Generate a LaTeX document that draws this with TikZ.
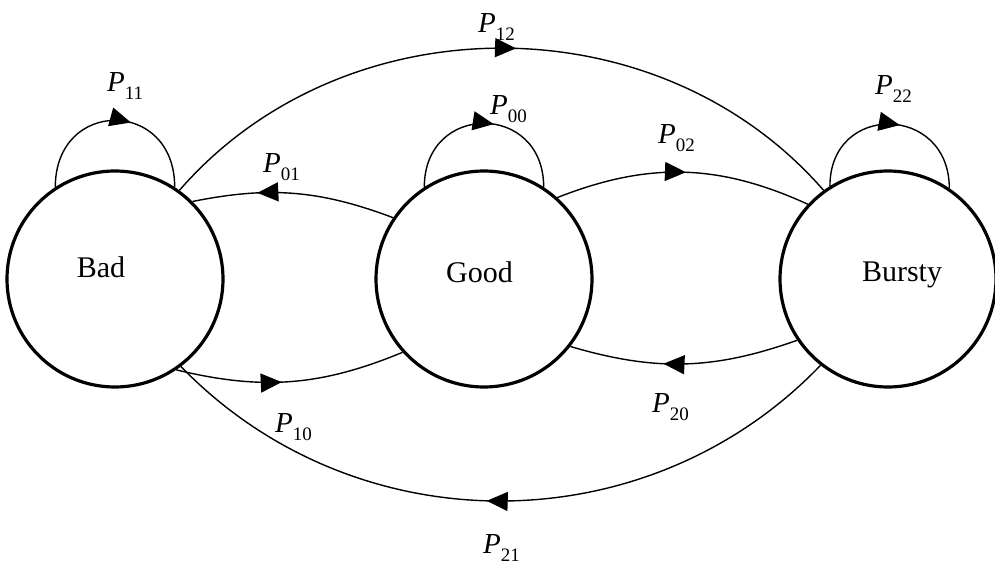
\documentclass[tikz,border=0pt]{standalone}
\usepackage{fontspec}
\setmainfont{Liberation Serif}
\usetikzlibrary{arrows.meta, decorations.markings}

\newcommand{\prob}[1]{\textit{P}\raisebox{-8pt}{\fontsize{19}{19}\selectfont #1}}

\tikzset{
  state/.style={draw, circle, line width=3.2pt, minimum size=216pt, inner sep=0pt},
  statetext/.style={font=\fontsize{30}{30}\selectfont, inner sep=0pt},
  trans/.style={line width=1.4pt, postaction={decorate},
    decoration={markings, mark=at position #1 with {\arrow{Triangle[length=21pt,width=19pt]}}}},
  plabel/.style={anchor=base west, inner sep=0pt, font=\fontsize{29}{29}\selectfont}
}

\begin{document}
\begin{tikzpicture}[x=1pt, y=1pt]
    \useasboundingbox (0,0) rectangle (995,565);
    % states
    \node (bad) [state, label={[statetext, xshift=-14pt, yshift=12pt]center:Bad}] at (115,286) {};
    \node (good) [state, label={[statetext, xshift=-4.5pt, yshift=6.5pt]center:Good}] at (484,286) {};
    \node (bursty) [state, label={[statetext, xshift=14pt, yshift=4pt]center:Bursty}] at (888,286) {};

    % self loops
    \draw[trans=0.58] (bad.123) .. controls +(90:89) and +(90:89) .. (bad.57);
    \draw[trans=0.55] (good.123) .. controls +(90:85) and +(90:85) .. (good.57);
    \draw[trans=0.55] (bursty.122) .. controls +(90:84) and +(90:84) .. (bursty.56);

    % transitions
    \draw[trans=0.52] (bad.54) to[bend left=49] (bursty.126);
    \draw[trans=0.68] (good.146) to[bend right=16] (bad.45);
    \draw[trans=0.51] (good.48) to[bend left=23] (bursty.137);
    \draw[trans=0.46] (bad.304) to[bend right=18] (good.222);
    \draw[trans=0.59] (bursty.214) to[bend left=18] (good.322);
    \draw[trans=0.52] (bursty.232) to[bend left=46] (bad.307);

    % labels
    \node (p11) [plabel] at (107,473) {\prob{11}};
    \node (p00) [plabel] at (490,450) {\prob{00}};
    \node (p22) [plabel] at (875,470) {\prob{22}};
    \node (p12) [plabel] at (478,532) {\prob{12}};
    \node (p01) [plabel] at (263,392) {\prob{01}};
    \node (p02) [plabel] at (658,421) {\prob{02}};
    \node (p10) [plabel] at (275,133) {\prob{10}};
    \node (p20) [plabel] at (652,153) {\prob{20}};
    \node (p21) [plabel] at (483,12) {\prob{21}};
\end{tikzpicture}
\end{document}
